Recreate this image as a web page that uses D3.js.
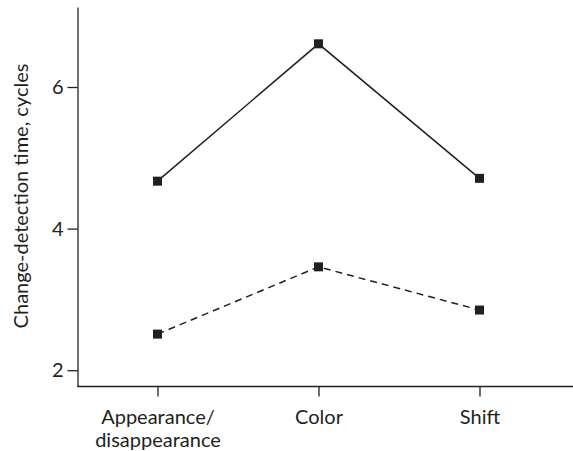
<!DOCTYPE html>
<html>
<head>
<meta charset="utf-8">
<script src="https://cdn.jsdelivr.net/npm/d3@7"></script>
<style>
  body { margin: 0; background: #fff; }
  text { font-family: Lato, "Open Sans", sans-serif; fill: #231f20; }
</style>
</head>
<body>
<div id="chart"></div>
<script>
const categories = ["Appearance/\ndisappearance", "Color", "Shift"];
const solidValues = [4.67, 6.61, 4.71];
const dashedValues = [2.51, 3.46, 2.85];
const yTicks = [2, 4, 6];

const width = 573, height = 451;
const ink = "#231f20";
const fontSize = "20px";

const svg = d3.select("#chart")
  .append("svg")
  .attr("width", width)
  .attr("height", height);

const axisX = 77.5, axisY = 386.5;

const x = d3.scalePoint()
  .domain(categories)
  .range([157.5, 479.5]);

const y = d3.scaleLinear()
  .domain([1.77, 7.13])
  .range([axisY, 7]);

// y axis
const yAxis = svg.append("g")
  .attr("transform", `translate(${axisX},0)`)
  .call(d3.axisLeft(y).tickValues(yTicks).tickFormat(d3.format("d"))
    .tickSize(10).tickPadding(4).tickSizeOuter(0));
yAxis.select(".domain").attr("stroke", ink).attr("stroke-width", 1.3);
yAxis.selectAll(".tick line").attr("stroke", ink).attr("stroke-width", 1.3);
yAxis.selectAll(".tick text").style("font-size", fontSize).attr("fill", ink);

// x axis
const xAxis = svg.append("g")
  .attr("transform", `translate(0,${axisY})`)
  .call(d3.axisBottom(x).tickSize(10).tickSizeOuter(0).tickFormat(""));
xAxis.select(".domain").remove();
xAxis.selectAll(".tick line").attr("stroke", ink).attr("stroke-width", 1.3);
xAxis.append("line")
  .attr("x1", axisX).attr("x2", width)
  .attr("y1", 0).attr("y2", 0)
  .attr("stroke", ink).attr("stroke-width", 1.3);

xAxis.selectAll(".tick").each(function(d) {
  const lines = d.split("\n");
  const t = d3.select(this).append("text")
    .attr("text-anchor", "middle")
    .style("font-size", fontSize)
    .attr("fill", ink);
  lines.forEach((l, i) => {
    t.append("tspan").attr("x", 0).attr("y", 37 + i * 23).text(l);
  });
});

// y label
svg.append("text")
  .attr("transform", `translate(28,196) rotate(-90)`)
  .attr("text-anchor", "middle")
  .style("font-size", fontSize)
  .text("Change-detection time, cycles");

const line = d3.line()
  .x((d, i) => x(categories[i]))
  .y(d => y(d));

function series(values, dash) {
  svg.append("path")
    .datum(values)
    .attr("d", line)
    .attr("fill", "none")
    .attr("stroke", ink)
    .attr("stroke-width", 1.5)
    .attr("stroke-dasharray", dash);
  const s = 9;
  svg.append("g").selectAll("rect")
    .data(values)
    .join("rect")
    .attr("x", (d, i) => x(categories[i]) - s / 2)
    .attr("y", d => y(d) - s / 2)
    .attr("width", s)
    .attr("height", s)
    .attr("fill", ink);
}

series(solidValues, null);
series(dashedValues, "7,5");
</script>
</body>
</html>
